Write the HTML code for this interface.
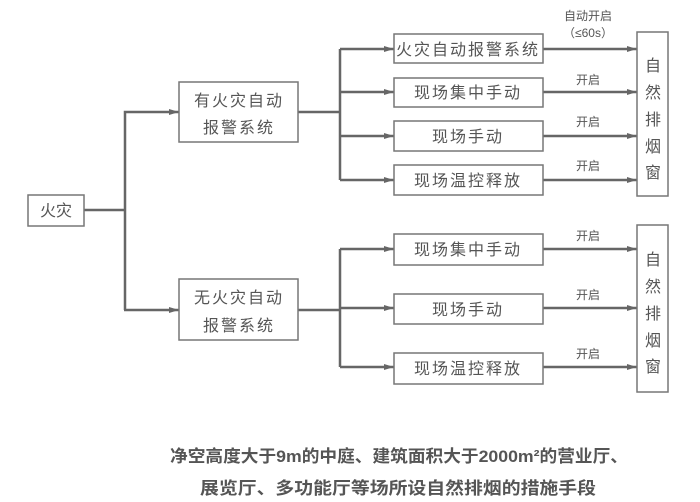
<!DOCTYPE html>
<html><head><meta charset="utf-8"><style>
html,body{margin:0;padding:0;background:#fff;}
svg{display:block;}
text{font-family:"Liberation Sans","Noto Sans CJK SC",sans-serif;fill:#555;}
</style></head><body>
<svg width="700" height="502" viewBox="0 0 700 502" xmlns="http://www.w3.org/2000/svg">
<defs><marker id="a" markerWidth="10" markerHeight="6" refX="10" refY="3" orient="auto" markerUnits="userSpaceOnUse"><path d="M0,0 L10,3 L0,6 Z" fill="#666"/></marker></defs>
<g stroke="#666" stroke-width="2.5" fill="none">
<line x1="84" y1="210" x2="125" y2="210"/>
<polyline points="125,310 125,112 179,112" marker-end="url(#a)"/>
<line x1="124" y1="310" x2="179" y2="310" marker-end="url(#a)"/>
<line x1="298" y1="112" x2="340" y2="112"/>
<line x1="340" y1="49" x2="340" y2="180"/>
<line x1="340" y1="49" x2="394" y2="49" marker-end="url(#a)"/>
<line x1="340" y1="92" x2="394" y2="92" marker-end="url(#a)"/>
<line x1="340" y1="136" x2="394" y2="136" marker-end="url(#a)"/>
<line x1="340" y1="180" x2="394" y2="180" marker-end="url(#a)"/>
<line x1="543" y1="49" x2="637" y2="49" marker-end="url(#a)"/>
<line x1="543" y1="92" x2="637" y2="92" marker-end="url(#a)"/>
<line x1="543" y1="136" x2="637" y2="136" marker-end="url(#a)"/>
<line x1="543" y1="180" x2="637" y2="180" marker-end="url(#a)"/>
<line x1="298" y1="310" x2="340" y2="310"/>
<line x1="340" y1="249" x2="340" y2="367"/>
<line x1="340" y1="249" x2="394" y2="249" marker-end="url(#a)"/>
<line x1="340" y1="308" x2="394" y2="308" marker-end="url(#a)"/>
<line x1="340" y1="367" x2="394" y2="367" marker-end="url(#a)"/>
<line x1="543" y1="249" x2="637" y2="249" marker-end="url(#a)"/>
<line x1="543" y1="308" x2="637" y2="308" marker-end="url(#a)"/>
<line x1="543" y1="367" x2="637" y2="367" marker-end="url(#a)"/>
</g>
<g stroke="#777" stroke-width="1.5" fill="#fff">
<rect x="28" y="195" width="56" height="31"/>
<rect x="179" y="82" width="119" height="60"/>
<rect x="179" y="279" width="119" height="61"/>
<rect x="394" y="34" width="149" height="29"/>
<rect x="394" y="78" width="149" height="29"/>
<rect x="394" y="121" width="149" height="30"/>
<rect x="394" y="165" width="149" height="30"/>
<rect x="394" y="234" width="149" height="31"/>
<rect x="394" y="294" width="149" height="30"/>
<rect x="394" y="353" width="149" height="31"/>
<rect x="637" y="32" width="31" height="164"/>
<rect x="637" y="225" width="31" height="167"/>
</g>
<g font-size="16" text-anchor="middle">
<text x="56" y="216">火灾</text>
<text x="239" y="106" letter-spacing="2">有火灾自动</text>
<text x="239" y="133" letter-spacing="2">报警系统</text>
<text x="239" y="303" letter-spacing="2">无火灾自动</text>
<text x="239" y="331" letter-spacing="2">报警系统</text>
<text x="468" y="55" letter-spacing="2">火灾自动报警系统</text>
<text x="468" y="98" letter-spacing="2">现场集中手动</text>
<text x="468" y="142" letter-spacing="2">现场手动</text>
<text x="468" y="186" letter-spacing="2">现场温控释放</text>
<text x="468" y="255" letter-spacing="2">现场集中手动</text>
<text x="468" y="315" letter-spacing="2">现场手动</text>
<text x="468" y="374" letter-spacing="2">现场温控释放</text>
<text x="653" y="71">自</text><text x="653" y="98">然</text><text x="653" y="125">排</text><text x="653" y="152">烟</text><text x="653" y="178">窗</text>
<text x="653" y="265">自</text><text x="653" y="292">然</text><text x="653" y="319">排</text><text x="653" y="346">烟</text><text x="653" y="372">窗</text>
</g>
<g font-size="12" text-anchor="middle">
<text x="588" y="20">自动开启</text>
<text x="588" y="37">（≤60s）</text>
<text x="588" y="84">开启</text>
<text x="588" y="126">开启</text>
<text x="588" y="170">开启</text>
<text x="588" y="240">开启</text>
<text x="588" y="299">开启</text>
<text x="588" y="358">开启</text>
</g>
<g font-size="17" font-weight="bold" style="fill:#444">
<text x="170" y="462" textLength="458" lengthAdjust="spacingAndGlyphs">净空高度大于9m的中庭、建筑面积大于2000m²的营业厅、</text>
<text x="200" y="494" textLength="396" lengthAdjust="spacingAndGlyphs">展览厅、多功能厅等场所设自然排烟的措施手段</text>
</g>
</svg>
</body></html>
